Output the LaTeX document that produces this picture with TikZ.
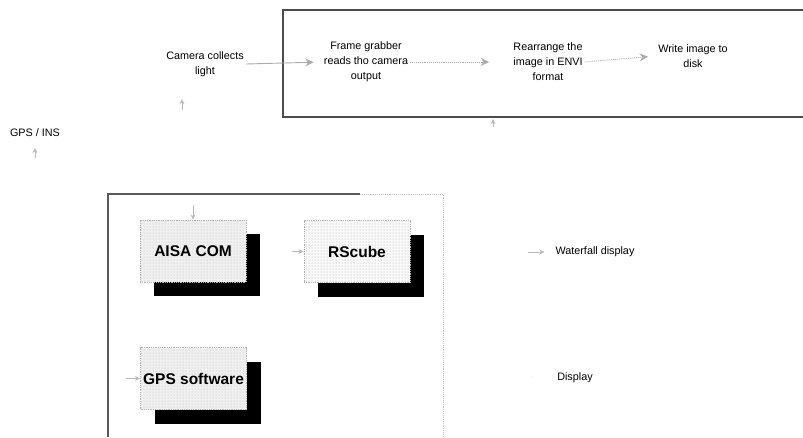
\documentclass[tikz,border=0pt]{standalone}
\usepackage{fontspec}
\setmainfont{Liberation Sans}
\usetikzlibrary{arrows.meta,shadows,patterns}

\begin{document}
\begin{tikzpicture}[x=1pt,y=-1pt,>={Stealth[length=3mm,width=2.8mm]},
  proc/.style={align=center,inner sep=2pt,font=\fontsize{10.8}{15}\selectfont},
  label/.style={inner sep=1pt,font=\fontsize{10.8}{13}\selectfont},
  swbox/.style={draw=gray!60,densely dotted,line width=0.8pt,fill=gray!12,
    minimum width=106pt,minimum height=62pt,inner sep=1pt,
    font=\fontsize{15.5}{18}\selectfont\bfseries,
    drop shadow={shadow xshift=14pt,shadow yshift=-14pt,opacity=1,fill=black},
    postaction={pattern=dots,pattern color=gray!55}},
  flow/.style={->,draw=gray!65,line width=0.9pt,color=gray!65},
  faint/.style={->,draw=gray!30,line width=0.5pt,color=gray!55,
    >={Stealth[length=1.8mm,width=1.7mm]}}]
\useasboundingbox (0,0) rectangle (803,437);

% acquisition chain
\draw[black!70,line width=1.6pt] (803,10) -- (283,10) -- (283,117) -- (803,117);
\node[proc] (camera) at (205,64) {Camera collects\\light};
\node[proc] (grab) at (366,62) {Frame grabber\\reads tho camera\\output};
\node[proc] (envi) at (548,62) {Rearrange the\\image in ENVI\\format};
\node[proc] (disk) at (693,56) {Write image to\\disk};
\draw[flow,shorten >=8pt] (camera.east) -- (grab.west);
\draw[flow,densely dotted,shorten >=22pt] (grab.east) -- (envi.west);
\draw[flow,densely dotted,shorten >=8pt] (envi.east) -- (disk.west);

% software box
\node[label] (gpsins) at (35,133) {GPS / INS};
\draw[black!65,line width=1.4pt] (108,437) -- (108,194) -- (360,194);
\draw[gray!50,densely dotted,line width=0.9pt] (360,194) -- (443,194) -- (443,437);
\node[swbox] (aisa) at (193,251) {AISA COM};
\node[swbox,fill=gray!4,postaction={pattern=dots,pattern color=gray!25}] (rscube) at (357,251.5) {RScube};
\node[swbox] (gpssw) at (193.5,378.5) {GPS software};

% outputs
\node[label] (water) at (595,252) {Waterfall display};
\node[label] (display) at (575,378) {Display};

% faded connectors
\coordinate (camup) at (182,110);
\coordinate (camtip) at (182,99);
\coordinate (boxup) at (493,127);
\coordinate (boxtip) at (493,119);
\coordinate (gpsup) at (35,158);
\coordinate (gpstip) at (35,148);
\coordinate (aisain) at (193,205);
\coordinate (rsin) at (292,251.5);
\coordinate (gpsin) at (126,378.5);
\coordinate (waterin) at (528,252);
\coordinate (dispin) at (531,377);
\draw[faint] (camup) -- (camtip);
\draw[faint] (boxup) -- (boxtip);
\draw[faint] (gpsup) -- (gpstip);
\draw[faint] (aisain) -- (aisa.north);
\draw[faint] (rsin) -- (rscube.west);
\draw[faint] (gpsin) -- (gpssw.west);
\draw[faint,shorten >=10pt] (waterin) -- (water.west);
\draw[gray!50,densely dashed,line width=0.5pt,shorten >=24pt] (dispin) -- (display.west);
\end{tikzpicture}
\end{document}
